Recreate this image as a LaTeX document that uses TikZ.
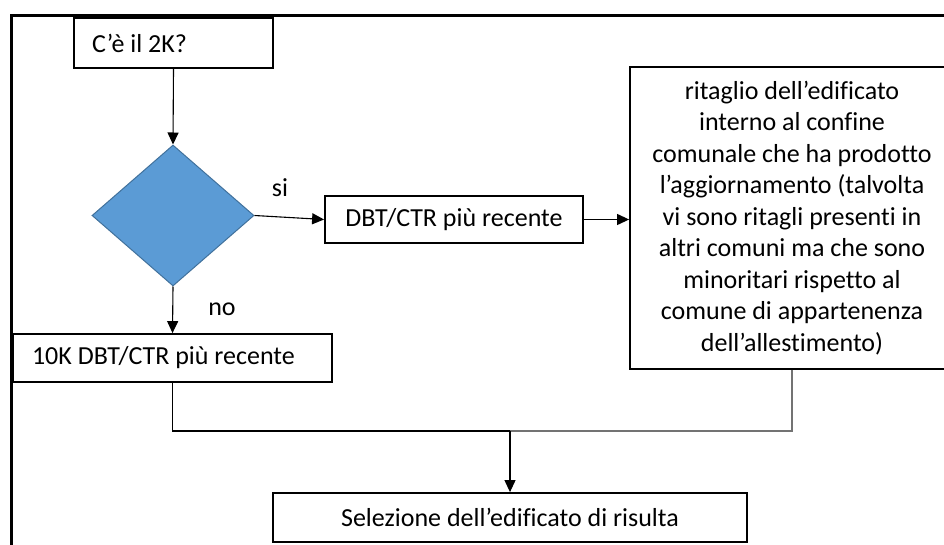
\documentclass[tikz,border=0pt]{standalone}
\usepackage{fontspec}
\setmainfont{Carlito}[Ligatures=NoCommon]
\usetikzlibrary{shapes.geometric,arrows.meta}
\definecolor{diafill}{HTML}{5B9BD5}
\definecolor{diadraw}{HTML}{41719C}
\begin{document}
\begin{tikzpicture}[x=1pt,y=-1pt,
  every node/.style={font=\fontsize{26}{31.5}\selectfont},
  box/.style={draw=black,line width=1.8pt,rectangle,inner sep=0pt,fill=white},
  conn/.style={line width=1.1pt,draw=black},
  arr/.style={conn,-{Triangle[length=12pt,width=11pt]}},
  frameline/.style={line width=3pt,draw=black}]
\useasboundingbox (0,0) rectangle (944,545);
\clip (0,0) rectangle (944,545);
% frame
\draw[frameline] (944,15.5) -- (11.5,15.5) -- (11.5,548);
% nodes
\node[box,minimum width=199pt,minimum height=50pt,text width=163pt,inner xsep=18pt,align=flush left] (q) at (173.5,43) {C’è il 2K?};
\node[diamond,fill=diafill,draw=diadraw,line width=1pt,minimum width=162pt,minimum height=141pt,inner sep=0pt] (dia) at (173,215.5) {};
\node[box,minimum width=258pt,minimum height=47pt] (dbt) at (454,219.5) {DBT/CTR più recente};
\node[box,minimum width=324pt,minimum height=302pt,align=center] (big) at (792,218) {ritaglio dell’edificato\\interno al confine\\comunale che ha prodotto\\l’aggiornamento (talvolta\\vi sono ritagli presenti in\\altri comuni ma che sono\\minoritari rispetto al\\comune di appartenenza\\dell’allestimento)};
\node[box,minimum width=319pt,minimum height=48pt,text width=281pt,inner xsep=19pt,align=flush left] (k10) at (172.5,358) {10K DBT/CTR più recente};
\node[box,minimum width=474pt,minimum height=49pt] (sel) at (510,517.5) {Selezione dell’edificato di risulta};
% labels
\node (si) at (280,188) {si};
\node (no) at (222,309) {no};
% connectors
\coordinate (j) at (510,431);
\draw[arr] (q.south) -- (dia.north);
\draw[arr] (dia.east) -- (dbt.west);
\draw[arr] (dbt.east) -- (dbt.east -| big.west);
\draw[arr] (dia.south) -- (k10.north);
\draw[conn] (k10.south) |- (j);
\draw[conn,draw=black!55] (big.south) |- (j);
\draw[arr] (j) -- (sel.north);
\end{tikzpicture}
\end{document}
